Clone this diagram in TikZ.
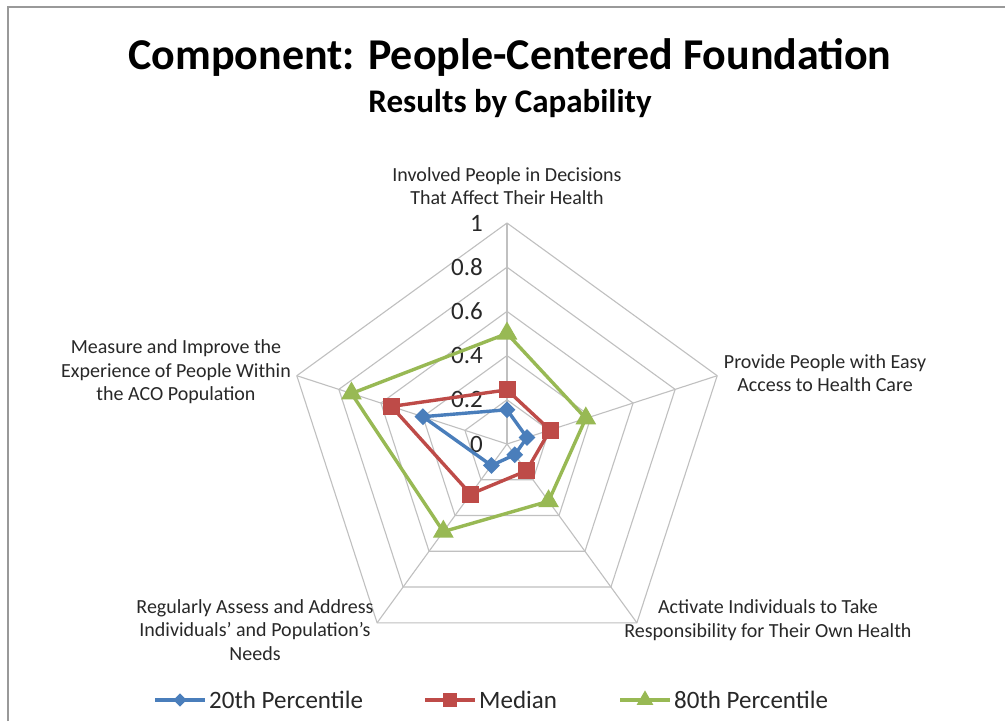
\documentclass[tikz,border=0pt]{standalone}
\usepackage{fontspec}
\setmainfont{Carlito}
\usetikzlibrary{
	calc,
	positioning,
	shapes.geometric}

\definecolor{pblue}{RGB}{74,126,187}
\definecolor{pred}{RGB}{190,75,72}
\definecolor{pgreen}{RGB}{152,185,84}
\definecolor{gridgray}{RGB}{192,192,192}
\definecolor{textgray}{RGB}{40,40,40}

\begin{document}
\begin{tikzpicture}[x=1pt,y=-1pt,every text node part/.style={align=center}]
		\tikzstyle{ring}=[draw=gridgray,line width=1.1pt,line join=round]
		\tikzstyle{series}=[line width=3.4pt,line join=round]
		\tikzstyle{axlabel}=[font=\fontsize{20}{23.5}\selectfont,text=textgray,inner sep=0pt]
		\tikzstyle{tick}=[font=\fontsize{25}{25}\selectfont,text=textgray,inner sep=0pt,anchor=east]
		\tikzstyle{legend}=[font=\fontsize{25}{25}\selectfont,text=textgray,inner sep=0pt,anchor=west]
		\tikzstyle{bmark}=[diamond,fill=pblue,inner sep=0pt,minimum size=17pt]
		\tikzstyle{rmark}=[rectangle,fill=pred,inner sep=0pt,minimum size=17pt]
		\tikzstyle{gmark}=[regular polygon,regular polygon sides=3,fill=pgreen,inner sep=0pt,minimum size=24pt]

		\useasboundingbox (0,0) rectangle (1005,721);
		\fill[white] (0,0) rectangle (1005,721);

		% frame
		\draw[gray!80,line width=1.2pt] (8,721) -- (8,7) -- (1005,7);

		% titles
		\node[font=\fontsize{44}{44}\selectfont\bfseries] (title) at (510,57) {Component: People-Centered Foundation};
		\node[font=\fontsize{33}{33}\selectfont\bfseries] (subtitle) at (510,104) {Results by Capability};

		% centre and spokes
		\coordinate (O) at (507,444);
		\foreach \a [count=\n] in {90,18,306,234,162}
			\coordinate (v\n) at ($(O)+(\a:221pt)$);

		% rings
		\foreach \r in {1,...,5}
			\draw[ring] ($(O)+(90:\r*44.2pt)$) -- ($(O)+(18:\r*44.2pt)$) -- ($(O)+(306:\r*44.2pt)$)
				-- ($(O)+(234:\r*44.2pt)$) -- ($(O)+(162:\r*44.2pt)$) -- cycle;
		\foreach \n in {1,...,5}
			\draw[ring] (O) -- (v\n);

		% ticks
		\foreach \v [count=\i from 0] in {0,0.2,0.4,0.6,0.8,1}
			\node[tick] (t\i) at ($(O)+(90:\i*44.2pt)+(-24pt,0pt)$) {\v};

		% axis labels
		\node[axlabel] (c1) at (507,186) {Involved People in Decisions\\That Affect Their Health};
		\node[axlabel] (c2) at (825,373) {Provide People with Easy\\Access to Health Care};
		\node[axlabel] (c3) at (768,620) {Activate Individuals to Take\\Responsibility for Their Own Health};
		\node[axlabel] (c4) at (255,630) {Regularly Assess and Address\\Individuals' and Population's\\Needs};
		\node[axlabel] (c5) at (176,372) {Measure and Improve the\\Experience of People Within\\the ACO Population};

		% 80th percentile
		\foreach \a/\v [count=\i] in {90/0.50,18/0.375,306/0.32,234/0.49,162/0.74}
			\coordinate (g\i) at ($(O)+(\a:\v*221pt)$);
		\draw[series,pgreen] (g1) -- (g2) -- (g3) -- (g4) -- (g5) -- cycle;
		\foreach \i in {1,...,5}
			\node[gmark] (gm\i) at (g\i) {};

		% median
		\foreach \a/\v [count=\i] in {90/0.245,18/0.205,306/0.15,234/0.28,162/0.55}
			\coordinate (r\i) at ($(O)+(\a:\v*221pt)$);
		\draw[series,pred] (r1) -- (r2) -- (r3) -- (r4) -- (r5) -- cycle;
		\foreach \i in {1,...,5}
			\node[rmark] (rm\i) at (r\i) {};

		% 20th percentile
		\foreach \a/\v [count=\i] in {90/0.155,18/0.095,306/0.06,234/0.12,162/0.40}
			\coordinate (b\i) at ($(O)+(\a:\v*221pt)$);
		\draw[series,pblue] (b1) -- (b2) -- (b3) -- (b4) -- (b5) -- cycle;
		\foreach \i in {1,...,5}
			\node[bmark] (bm\i) at (b\i) {};

		% legend
		\foreach \s/\col/\x/\txt in {b/pblue/155/20th Percentile, r/pred/425/Median, g/pgreen/620/80th Percentile}{
			\coordinate (l\s a) at (\x,700);
			\coordinate (l\s b) at (\x+50,700);
			\draw[series,\col] (l\s a) -- (l\s b);
			\node[\s mark,scale=0.8] (l\s m) at ($(l\s a)!0.5!(l\s b)$) {};
			\node[legend,right=4pt of l\s b] (l\s t) {\txt};
		}

	\end{tikzpicture}
\end{document}
